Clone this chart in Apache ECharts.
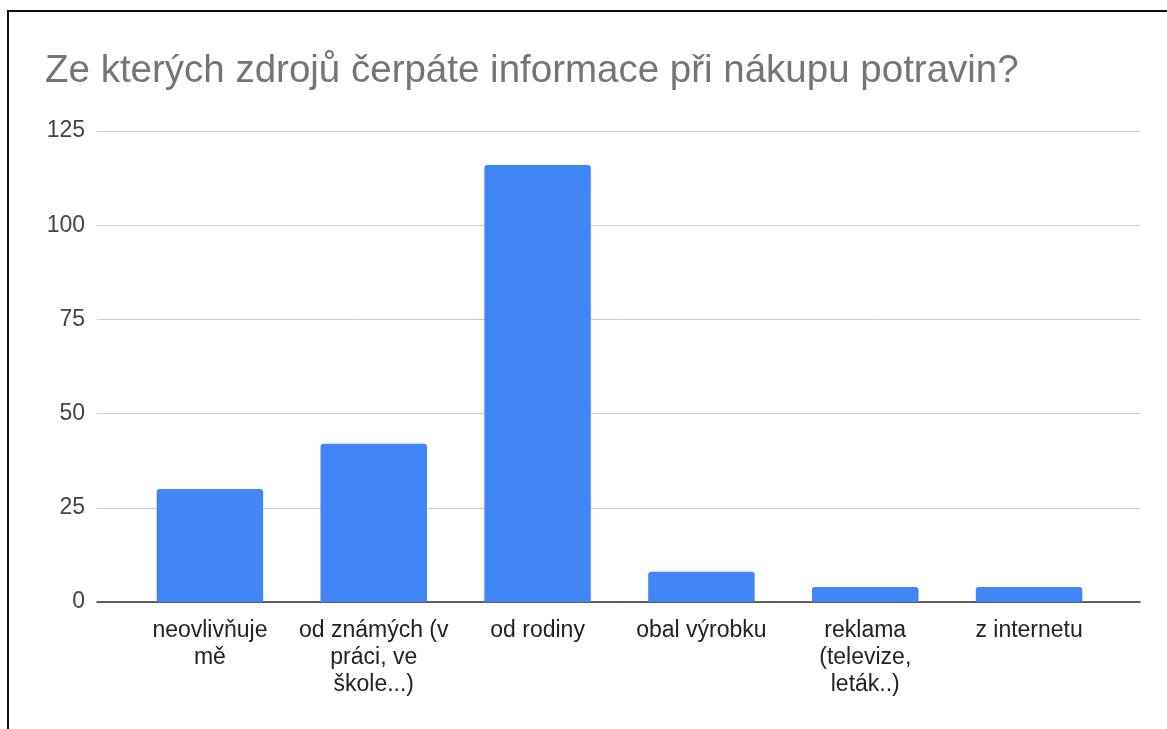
<!DOCTYPE html>
<html>
<head>
<meta charset="utf-8">
<script src="https://cdn.jsdelivr.net/npm/echarts@6/dist/echarts.min.js"></script>
<style>
  html, body { margin: 0; padding: 0; background: #fff; }
  #chart { width: 1167px; height: 729px; }
  #frame { position: absolute; left: 7px; top: 10px; width: 1200px; height: 800px;
           border-left: 2px solid #111; border-top: 2px solid #111; pointer-events: none; }
</style>
</head>
<body>
<div id="chart"></div>
<div id="frame"></div>
<script>
const title = 'Ze kterých zdrojů čerpáte informace při nákupu potravin?';
const categories = [
  'neovlivňuje\nmě',
  'od známých (v\npráci, ve\nškole...)',
  'od rodiny',
  'obal výrobku',
  'reklama\n(televize,\nleták..)',
  'z internetu'
];
const counts = [30, 42, 116, 8, 4, 4];
const yTicks = { min: 0, max: 125, step: 25 };

const font = '"Liberation Sans", Arial, sans-serif';
const chart = echarts.init(document.getElementById('chart'));
chart.setOption({
  animation: false,
  backgroundColor: '#fff',
  title: {
    text: title, left: 40, top: 47,
    textStyle: { fontFamily: font, fontSize: 38.5, fontWeight: 'normal', color: '#757575' }
  },
  grid: [
    { left: 97, right: 27, top: 131, bottom: 127, containLabel: false },
    { left: 128, right: 56, top: 131, bottom: 127, containLabel: false }
  ],
  xAxis: [
    { gridIndex: 0, type: 'category', data: [''],
      axisLine: { show: true, lineStyle: { color: '#333', width: 1.5 } },
      axisTick: { show: false }, axisLabel: { show: false }, splitLine: { show: false } },
    { gridIndex: 1, type: 'category', data: categories,
      axisLine: { show: false }, axisTick: { show: false },
      axisLabel: { interval: 0, margin: 15, fontFamily: font, fontSize: 23, color: '#222', lineHeight: 27 } }
  ],
  yAxis: [
    { gridIndex: 0, type: 'value', min: yTicks.min, max: yTicks.max, interval: yTicks.step,
      axisLine: { show: false }, axisTick: { show: false },
      axisLabel: { margin: 12, fontFamily: font, fontSize: 23, color: '#444' },
      splitLine: { lineStyle: { color: '#cccccc', width: 1 } } },
    { gridIndex: 1, type: 'value', min: yTicks.min, max: yTicks.max, interval: yTicks.step, show: false,
      splitLine: { show: false } }
  ],
  series: [{
    type: 'bar', xAxisIndex: 1, yAxisIndex: 1,
    data: counts,
    barCategoryGap: '35%',
    itemStyle: { color: '#4285F4', borderRadius: [3, 3, 0, 0] }
  }]
});
</script>
</body>
</html>
